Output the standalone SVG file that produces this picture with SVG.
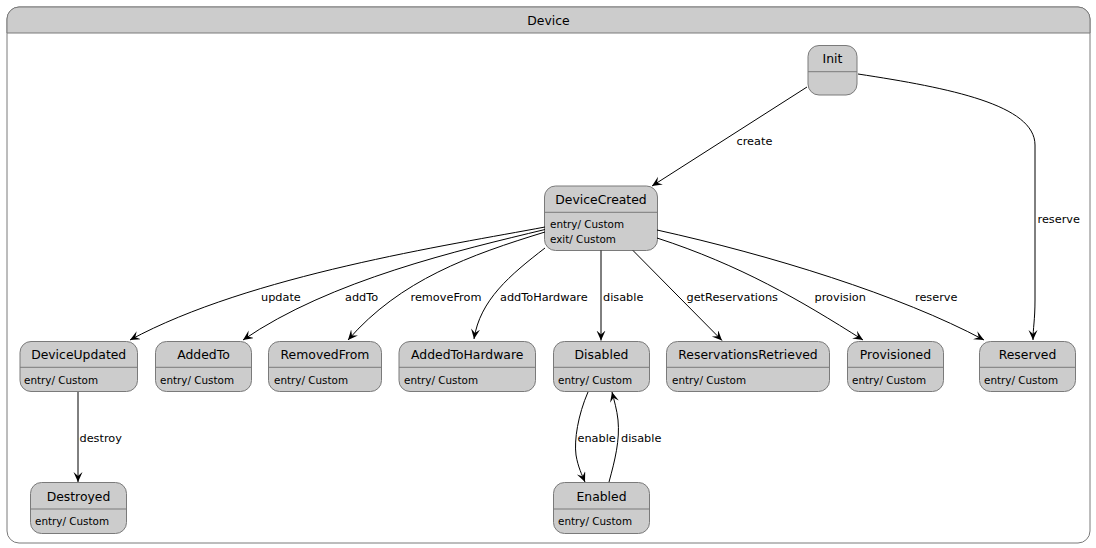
<svg xmlns="http://www.w3.org/2000/svg" width="1096" height="548" viewBox="0 0 1096 548">
<style>
.st{fill:#CCCCCC;stroke:#7A7A7A;stroke-width:1}
.dv{stroke:#7A7A7A;stroke-width:1}
.t{font-family:"DejaVu Sans",sans-serif;font-size:12.4px;fill:#000;text-anchor:middle}
.a{font-family:"DejaVu Sans",sans-serif;font-size:10.4px;fill:#000}
.l{font-family:"DejaVu Sans",sans-serif;font-size:11.3px;fill:#000}
.e{fill:none;stroke:#000;stroke-width:1;marker-end:url(#ah)}
</style>
<defs>
<marker id="ah" markerWidth="12" markerHeight="10" refX="10" refY="4.5" orient="auto" markerUnits="userSpaceOnUse">
<path d="M0,0 L10,4.5 L0,9 L4,4.5 Z" fill="#000"/>
</marker>
</defs>
<g id="Device">
<path d="M19,7 H1078 A12,12 0 0 1 1090,19 V531 A12,12 0 0 1 1078,543 H19 A12,12 0 0 1 7,531 V19 A12,12 0 0 1 19,7 Z" fill="#FFFFFF" stroke="#7A7A7A"/>
<path d="M19,7 H1078 A12,12 0 0 1 1090,19 V33 H7 V19 A12,12 0 0 1 19,7 Z" fill="#CCCCCC" stroke="#7A7A7A"/>
<text class="t" x="548.5" y="25">Device</text>
</g>
<g id="Init">
<rect class="st" x="808" y="45.5" width="49" height="49.5" rx="11"/>
<line class="dv" x1="808" y1="71.7" x2="857" y2="71.7"/>
<text class="t" x="832.5" y="63">Init</text>
</g>
<g id="DeviceCreated">
<rect class="st" x="544.5" y="186" width="113" height="64.5" rx="11"/>
<line class="dv" x1="544.5" y1="212.3" x2="657.5" y2="212.3"/>
<text class="t" x="601" y="204">DeviceCreated</text>
<text class="a" x="550" y="228">entry/ Custom</text>
<text class="a" x="550" y="242.7">exit/ Custom</text>
</g>
<g id="DeviceUpdated">
<rect class="st" x="20" y="341.5" width="117.5" height="50" rx="11"/>
<line class="dv" x1="20" y1="367.3" x2="137.5" y2="367.3"/>
<text class="t" x="78.7" y="359.3">DeviceUpdated</text>
<text class="a" x="24" y="384">entry/ Custom</text>
</g>
<g id="AddedTo">
<rect class="st" x="155.5" y="341.5" width="96" height="50" rx="11"/>
<line class="dv" x1="155.5" y1="367.3" x2="251.5" y2="367.3"/>
<text class="t" x="203.5" y="359.3">AddedTo</text>
<text class="a" x="160" y="384">entry/ Custom</text>
</g>
<g id="RemovedFrom">
<rect class="st" x="268.5" y="341.5" width="113" height="50" rx="11"/>
<line class="dv" x1="268.5" y1="367.3" x2="381.5" y2="367.3"/>
<text class="t" x="325" y="359.3">RemovedFrom</text>
<text class="a" x="274" y="384">entry/ Custom</text>
</g>
<g id="AddedToHardware">
<rect class="st" x="399" y="341.5" width="136.5" height="50" rx="11"/>
<line class="dv" x1="399" y1="367.3" x2="535.5" y2="367.3"/>
<text class="t" x="467.2" y="359.3">AddedToHardware</text>
<text class="a" x="404" y="384">entry/ Custom</text>
</g>
<g id="Disabled">
<rect class="st" x="553.5" y="341.5" width="96" height="50" rx="11"/>
<line class="dv" x1="553.5" y1="367.3" x2="649.5" y2="367.3"/>
<text class="t" x="601.5" y="359.3">Disabled</text>
<text class="a" x="558" y="384">entry/ Custom</text>
</g>
<g id="ReservationsRetrieved">
<rect class="st" x="666.5" y="341.5" width="163" height="50" rx="11"/>
<line class="dv" x1="666.5" y1="367.3" x2="829.5" y2="367.3"/>
<text class="t" x="748" y="359.3">ReservationsRetrieved</text>
<text class="a" x="672" y="384">entry/ Custom</text>
</g>
<g id="Provisioned">
<rect class="st" x="847.5" y="341.5" width="96" height="50" rx="11"/>
<line class="dv" x1="847.5" y1="367.3" x2="943.5" y2="367.3"/>
<text class="t" x="895.5" y="359.3">Provisioned</text>
<text class="a" x="852" y="384">entry/ Custom</text>
</g>
<g id="Reserved">
<rect class="st" x="979.5" y="341.5" width="96" height="50" rx="11"/>
<line class="dv" x1="979.5" y1="367.3" x2="1075.5" y2="367.3"/>
<text class="t" x="1027.5" y="359.3">Reserved</text>
<text class="a" x="984" y="384">entry/ Custom</text>
</g>
<g id="Destroyed">
<rect class="st" x="30.5" y="482.5" width="96" height="51" rx="11"/>
<line class="dv" x1="30.5" y1="509" x2="126.5" y2="509"/>
<text class="t" x="78.5" y="500.7">Destroyed</text>
<text class="a" x="35" y="525">entry/ Custom</text>
</g>
<g id="Enabled">
<rect class="st" x="553.5" y="482.5" width="96" height="51" rx="11"/>
<line class="dv" x1="553.5" y1="509" x2="649.5" y2="509"/>
<text class="t" x="601.5" y="500.7">Enabled</text>
<text class="a" x="558" y="525">entry/ Custom</text>
</g>
<g id="connectors">
<path class="e" d="M807,87 L652,186"/>
<text class="l" x="736.5" y="145">create</text>
<path class="e" d="M858,74 C950,88 1035,105 1035,145 L1035,300 C1035,320 1033,328 1033,340"/>
<text class="l" x="1037.5" y="222.5">reserve</text>
<path class="e" d="M545,227 C450,245 250,275 130,340"/>
<text class="l" x="261" y="300.5">update</text>
<path class="e" d="M545,229.5 C460,250 330,280 243,340"/>
<text class="l" x="345" y="300.5">addTo</text>
<path class="e" d="M545,232 C470,255 400,280 348,340"/>
<text class="l" x="410.5" y="300.5">removeFrom</text>
<path class="e" d="M545,248 C510,275 480,300 474,339"/>
<text class="l" x="500" y="300.5">addToHardware</text>
<path class="e" d="M601,250.5 L601,340.5"/>
<text class="l" x="603" y="300.5">disable</text>
<path class="e" d="M633,250.5 L722,340.5"/>
<text class="l" x="686.5" y="300.5">getReservations</text>
<path class="e" d="M657,238 C740,265 800,300 863,340"/>
<text class="l" x="814.5" y="300.5">provision</text>
<path class="e" d="M657,230 C770,255 900,295 984,340"/>
<text class="l" x="915" y="300.5">reserve</text>
<path class="e" d="M78,392 L78,482"/>
<text class="l" x="79.5" y="441.5">destroy</text>
<path class="e" d="M588,392 C578,415 574,440 576,455 C578,467 582,475 585,482"/>
<text class="l" x="577.5" y="441.5">enable</text>
<path class="e" d="M609,482 C615,460 620,440 618,420 C617,410 614,400 612,392"/>
<text class="l" x="621" y="441.5">disable</text>
</g>
</svg>
